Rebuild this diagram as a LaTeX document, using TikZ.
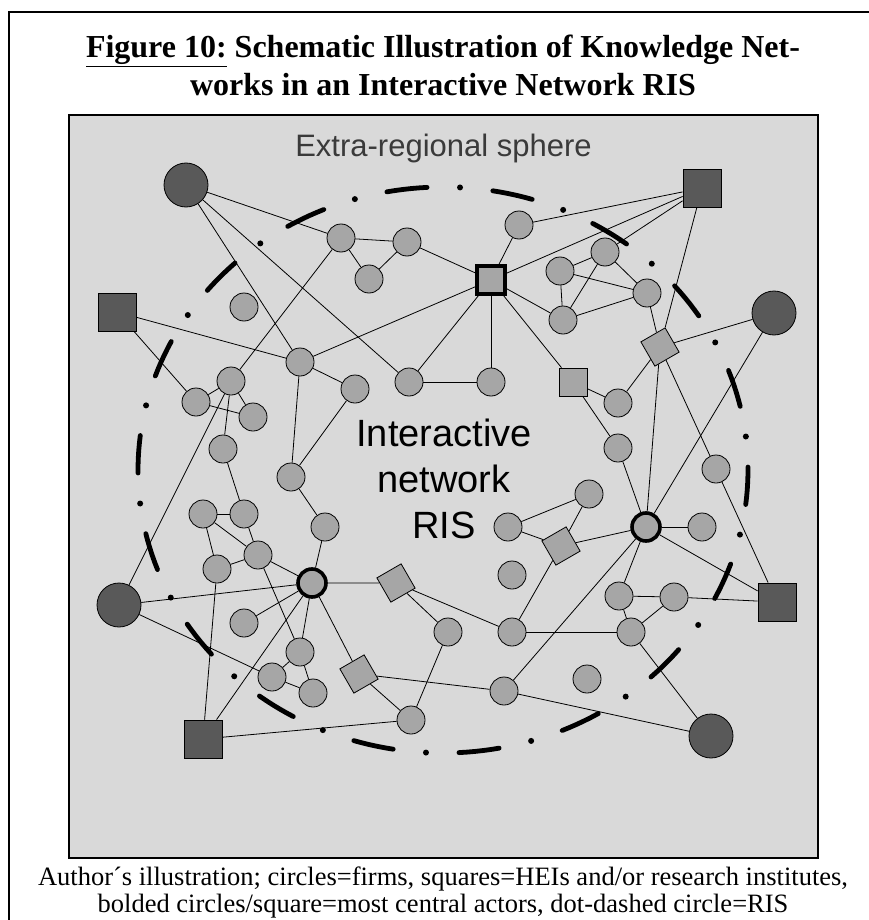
\documentclass[tikz,border=0pt]{standalone}
\usepackage{fontspec}
\setmainfont{Liberation Serif}
\newfontfamily\arialfont{Liberation Sans}
\definecolor{boxgray}{HTML}{D9D9D9}
\definecolor{firmgray}{HTML}{A6A6A6}
\definecolor{actordark}{HTML}{595959}
\definecolor{spheretext}{HTML}{3A3A3A}
\begin{document}
\begin{tikzpicture}[x=1pt,y=-1pt,
  firm/.style={circle,draw,fill=firmgray,minimum size=28pt,inner sep=0pt,line width=0.8pt},
  centralfirm/.style={firm,line width=3.6pt},
  hei/.style={rectangle,draw,fill=firmgray,minimum size=28pt,inner sep=0pt,line width=0.8pt},
  heitilt/.style={hei,rotate=30},
  centralhei/.style={hei,line width=3.6pt},
  extfirm/.style={circle,draw,fill=actordark,minimum size=44pt,inner sep=0pt,line width=0.8pt},
  exthei/.style={rectangle,draw,fill=actordark,minimum size=38pt,inner sep=0pt,line width=0.8pt},
  link/.style={line width=0.8pt},
  risline/.style={line width=4.8pt,line cap=round},
  titlefont/.style={font=\fontsize{32}{38}\selectfont\bfseries},
  captionfont/.style={font=\fontsize{26.5}{27}\selectfont}]
\useasboundingbox (0,0) rectangle (869,920);
\fill[white] (0,0) rectangle (869,920);

% page frame and title
\draw[line width=1.6pt] (9,920) -- (9,12) -- (869,12);
\node[titlefont,anchor=base] (title1) at (443,58) {\underline{Figure 10:} Schematic Illustration of Knowledge Net-};
\node[titlefont,anchor=base] (title2) at (443,96) {works in an Interactive Network RIS};

% extra-regional sphere
\draw[line width=2.4pt,fill=boxgray] (69,115) rectangle (818,858);
\node[anchor=base,text=spheretext,font=\arialfont\fontsize{31}{36}\selectfont] (sphere) at (443.5,157) {Extra-regional sphere};

% label of the regional innovation system
\node[anchor=base,font=\arialfont\fontsize{38}{46}\selectfont] (ris1) at (444,446) {Interactive};
\node[anchor=base,font=\arialfont\fontsize{38}{46}\selectfont] (ris2) at (444,492) {network};
\node[anchor=base,font=\arialfont\fontsize{38}{46}\selectfont] (ris3) at (444,538) {RIS};

% extra-regional actors
\node[extfirm] (dTL) at (186,185) {};
\node[exthei]  (dL)  at (117,312) {};
\node[exthei]  (dTR) at (702,188) {};
\node[extfirm] (dR)  at (774,313) {};
\node[extfirm] (dBL) at (119,605) {};
\node[exthei]  (dB)  at (203,739) {};
\node[exthei]  (dSR) at (777,602) {};
\node[extfirm] (dBR) at (711,736) {};

% regional actors, upper left
\node[firm] (a1) at (341,238) {};
\node[firm] (a2) at (407,242) {};
\node[firm] (a3) at (369,279) {};
\node[firm] (iso1) at (244,307) {};
\node[firm] (e1) at (300,362) {};
\node[firm] (f1) at (355,389) {};
\node[firm] (g1) at (409,382) {};
\node[firm] (h1) at (231,381) {};
\node[firm] (h2) at (196,402) {};
\node[firm] (h3) at (253,417) {};
\node[firm] (k1) at (223,449) {};

% regional actors, upper right
\node[firm] (t1) at (519,225) {};
\node[centralhei] (BS) at (491,280) {};
\node[firm] (l1) at (560,271) {};
\node[firm] (m1) at (605,252) {};
\node[firm] (n1) at (647,293) {};
\node[firm] (o1) at (563,320) {};
\node[heitilt] (P) at (660,347) {};
\node[firm] (q1) at (491,382) {};
\node[hei] (sR) at (573,382) {};
\node[firm] (s1) at (618,403) {};
\node[firm] (u1) at (618,448) {};

% regional actors, lower left
\node[firm] (v1) at (291,477) {};
\node[firm] (w1) at (203,514) {};
\node[firm] (w2) at (244,514) {};
\node[firm] (x1) at (325,527) {};
\node[firm] (y1) at (258,555) {};
\node[firm] (z1) at (217,569) {};
\node[centralfirm] (BC1) at (312,583) {};
\node[heitilt] (D1) at (396,583) {};
\node[firm] (iso2) at (244,623) {};
\node[firm] (c1) at (448,632) {};
\node[firm] (c2) at (300,652) {};
\node[firm] (c3) at (272,677) {};
\node[firm] (c4) at (313,693) {};
\node[heitilt] (D2) at (359,674) {};
\node[firm] (c5) at (411,720) {};

% regional actors, lower right
\node[firm] (r1) at (716,469) {};
\node[firm] (r2) at (589,494) {};
\node[firm] (r3) at (508,527) {};
\node[heitilt] (D3) at (561,546) {};
\node[centralfirm] (BC2) at (646,527) {};
\node[firm] (r4) at (702,527) {};
\node[firm] (iso3) at (512,575) {};
\node[firm] (r5) at (619,596) {};
\node[firm] (r6) at (674,597) {};
\node[firm] (r7) at (512,632) {};
\node[firm] (r8) at (631,632) {};
\node[firm] (iso4) at (587,679) {};
\node[firm] (r9) at (504,691) {};

% knowledge links
\foreach \u/\v in {dTL/a1, dTL/e1, dTL/g1, dL/e1, dL/h2,
  a1/a2, a1/a3, a3/a2, a2/BS, a1/h1,
  e1/BS, e1/f1, e1/v1, f1/v1, g1/BS, g1/q1,
  h1/h2, h1/h3, h2/h3, h1/k1, h1/dBL,
  dTR/t1, dTR/BS, dTR/m1, dTR/P,
  t1/BS, BS/o1, BS/q1, BS/sR,
  l1/m1, l1/n1, l1/o1, m1/o1, m1/n1, o1/n1,
  n1/P, P/dR, P/s1, sR/s1, sR/u1, P/BC2, P/r1, dR/BC2,
  k1/w2, w1/w2, w1/y1, w2/y1, w1/z1, z1/y1, y1/BC1, v1/x1, x1/BC1,
  BC1/D1, BC1/dBL, BC1/iso2, BC1/c2, BC1/dB, BC1/D2,
  y1/c2, z1/dB, c2/c3, c2/c4, c3/c4, dBL/c3,
  D1/c1, D1/r7, c1/c5, D2/c5, D2/r9, dB/c5,
  u1/BC2, r1/dSR, BC2/r4, BC2/dSR, BC2/D3, BC2/r5, BC2/r9,
  r3/r2, r3/D3, D3/r2, D3/r7, r7/r8, r5/r6, r5/r8, r8/r6, r6/dSR, r8/dBR, r9/dBR}
  \draw[link] (\u) -- (\v);

% dot-dashed boundary of the regional innovation system
\foreach \k in {0,...,17}{
  \pgfmathsetmacro\da{-3.2+20*\k-3.8}
  \pgfmathsetmacro\db{-3.2+20*\k+3.8}
  \pgfmathsetmacro\dc{6.8+20*\k}
  \draw[risline] plot[domain=\da:\db,samples=6] ({443+305*cos(\x)},{470-283*sin(\x)});
  \fill ({443+305*cos(\dc)},{470-283*sin(\dc)}) circle[radius=3pt];
}

% caption
\node[captionfont,anchor=base] (cap1) at (443,885) {Author´s illustration; circles=firms, squares=HEIs and/or research institutes,};
\node[captionfont,anchor=base] (cap2) at (443,912) {bolded circles/square=most central actors, dot-dashed circle=RIS};
\end{tikzpicture}
\end{document}
